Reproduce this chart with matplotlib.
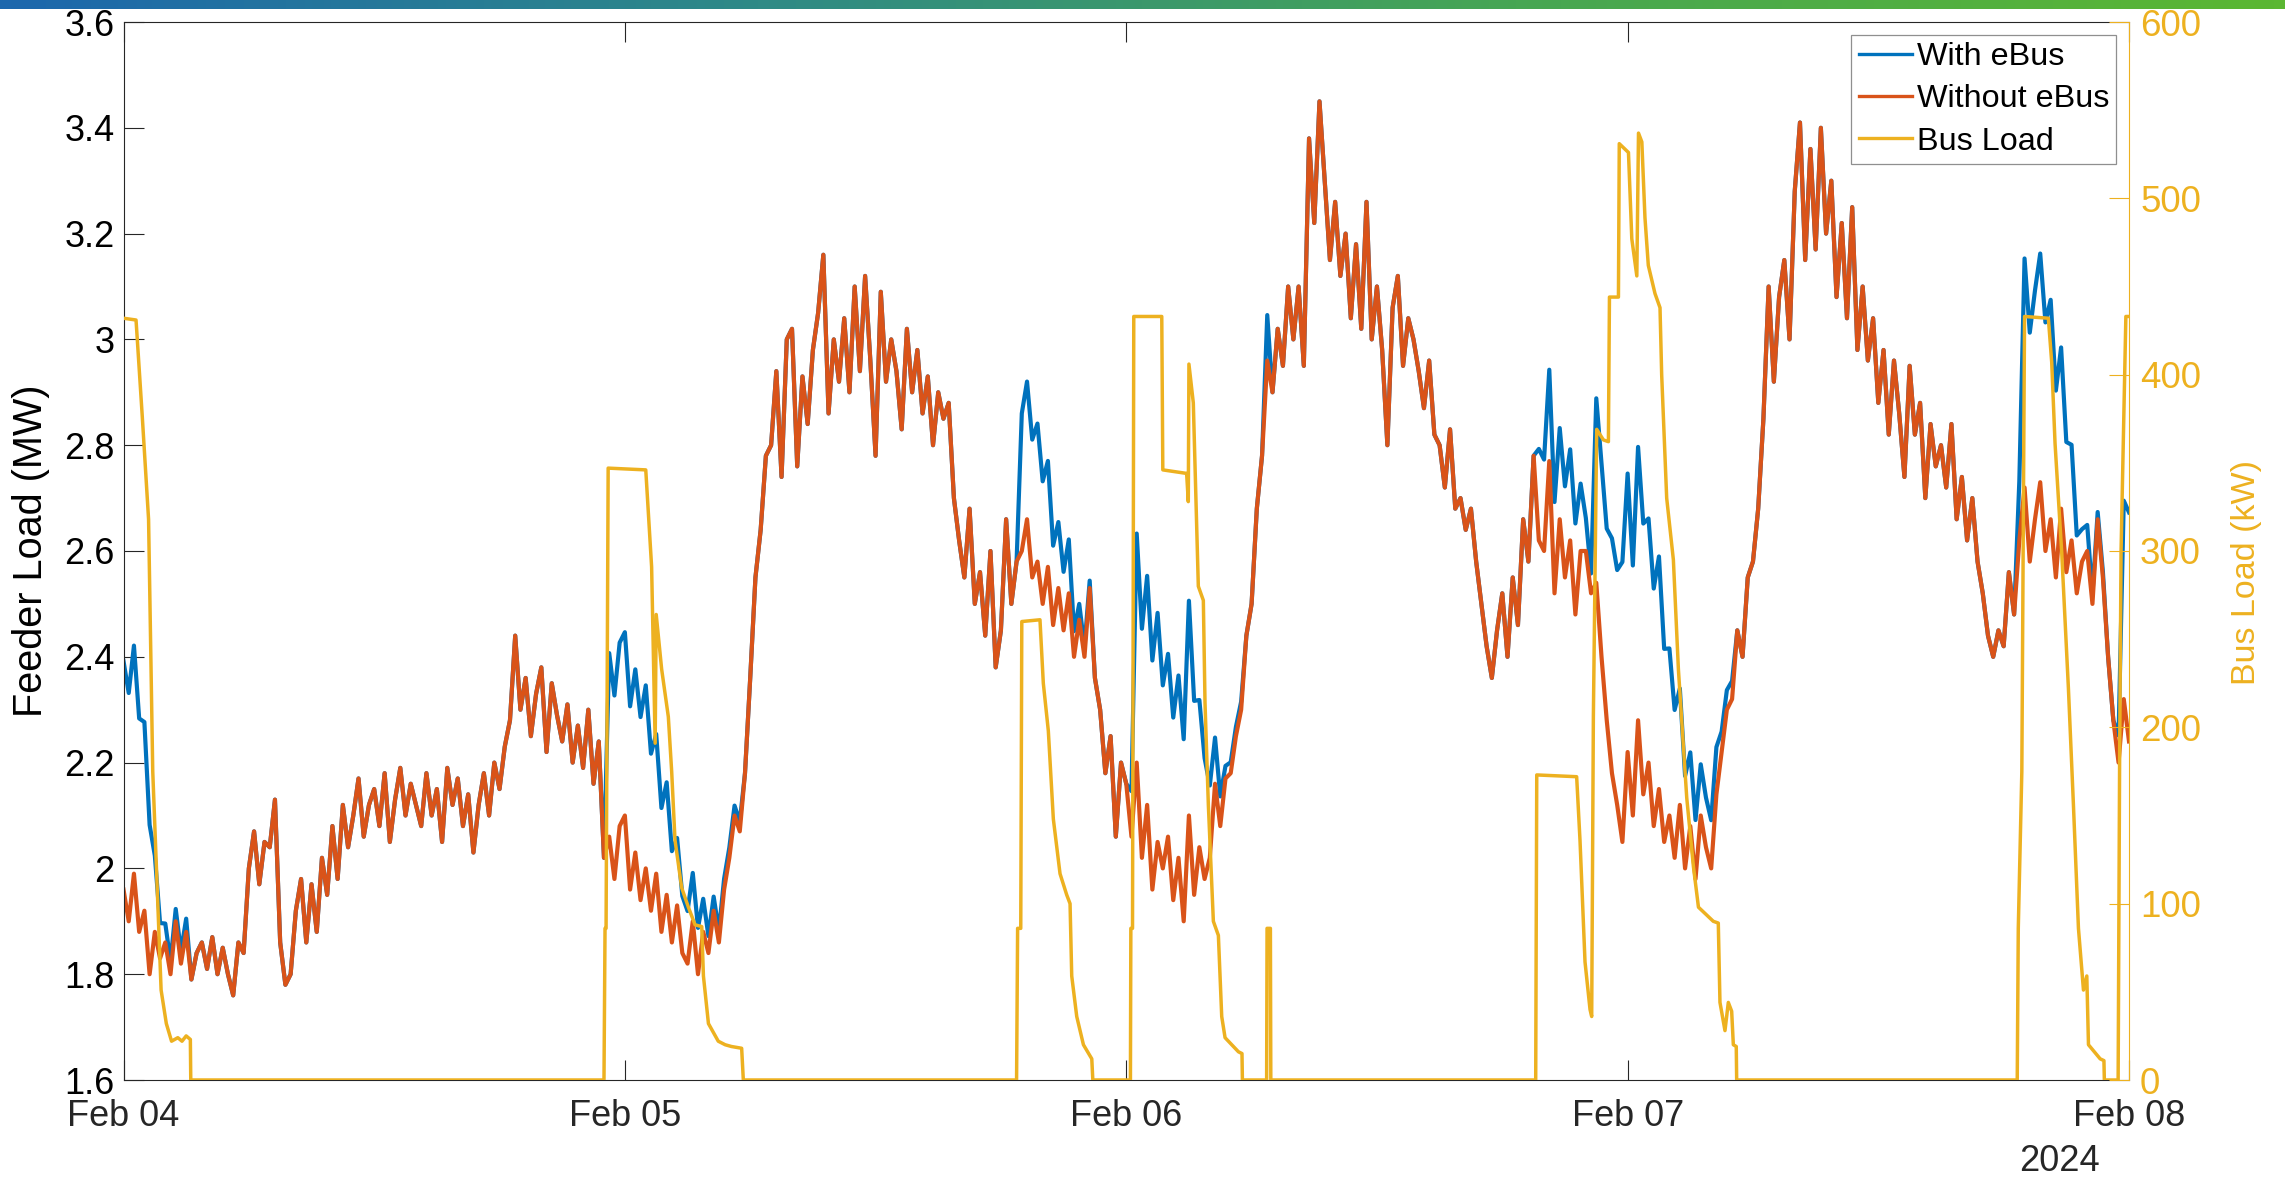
import numpy as np
import matplotlib
matplotlib.use("Agg")
import matplotlib.pyplot as plt
import matplotlib.dates as mdates
from matplotlib.colors import LinearSegmentedColormap
from matplotlib.ticker import FixedLocator, FuncFormatter
from datetime import datetime

plt.rcParams["font.family"] = ["Liberation Sans", "DejaVu Sans"]

# ---------------------------------------------------------------------------
# Feeder load without the electric-bus depot (MW), 15-minute samples
# starting 2024-02-04 00:00.
# ---------------------------------------------------------------------------
START = datetime(2024, 2, 4)
STEP_HOURS = 0.25

without_feb04 = [
    1.96, 1.90, 1.99, 1.88, 1.92, 1.80, 1.88, 1.83, 1.86, 1.80, 1.90, 1.82,
    1.88, 1.79, 1.84, 1.86, 1.81, 1.87, 1.80, 1.85, 1.80, 1.76, 1.86, 1.84,
    2.00, 2.07, 1.97, 2.05, 2.04, 2.13, 1.86, 1.78, 1.80, 1.92, 1.98, 1.86,
    1.97, 1.88, 2.02, 1.95, 2.08, 1.98, 2.12, 2.04, 2.10, 2.17, 2.06, 2.12,
    2.15, 2.08, 2.18, 2.05, 2.13, 2.19, 2.10, 2.16, 2.12, 2.08, 2.18, 2.10,
    2.15, 2.05, 2.19, 2.12, 2.17, 2.08, 2.14, 2.03, 2.12, 2.18, 2.10, 2.20,
    2.15, 2.23, 2.28, 2.44, 2.30, 2.36, 2.25, 2.33, 2.38, 2.22, 2.35, 2.29,
    2.24, 2.31, 2.20, 2.27, 2.19, 2.30, 2.16, 2.24, 2.02, 2.06, 1.98, 2.08,
]
without_feb05 = [
    2.10, 1.96, 2.03, 1.94, 2.00, 1.92, 1.99, 1.88, 1.95, 1.86, 1.93, 1.84,
    1.82, 1.90, 1.80, 1.88, 1.84, 1.92, 1.86, 1.96, 2.02, 2.10, 2.07, 2.18,
    2.36, 2.55, 2.64, 2.78, 2.80, 2.94, 2.74, 3.00, 3.02, 2.76, 2.93, 2.84,
    2.98, 3.05, 3.16, 2.86, 3.00, 2.92, 3.04, 2.90, 3.10, 2.94, 3.12, 2.96,
    2.78, 3.09, 2.92, 3.00, 2.94, 2.83, 3.02, 2.90, 2.98, 2.86, 2.93, 2.80,
    2.90, 2.85, 2.88, 2.70, 2.62, 2.55, 2.68, 2.50, 2.56, 2.44, 2.60, 2.38,
    2.45, 2.66, 2.50, 2.58, 2.60, 2.66, 2.55, 2.58, 2.50, 2.57, 2.46, 2.53,
    2.45, 2.52, 2.40, 2.47, 2.40, 2.53, 2.36, 2.30, 2.18, 2.25, 2.06, 2.20,
]
without_feb06 = [
    2.16, 2.06, 2.20, 2.02, 2.12, 1.96, 2.05, 2.00, 2.06, 1.94, 2.02, 1.90,
    2.10, 1.95, 2.04, 1.98, 2.02, 2.16, 2.08, 2.17, 2.18, 2.25, 2.30, 2.44,
    2.50, 2.68, 2.78, 2.96, 2.90, 3.02, 2.95, 3.10, 3.00, 3.10, 2.95, 3.38,
    3.22, 3.45, 3.30, 3.15, 3.26, 3.12, 3.20, 3.04, 3.18, 3.02, 3.26, 3.00,
    3.10, 2.98, 2.80, 3.06, 3.12, 2.95, 3.04, 3.00, 2.94, 2.87, 2.96, 2.82,
    2.80, 2.72, 2.83, 2.68, 2.70, 2.64, 2.68, 2.58, 2.50, 2.42, 2.36, 2.45,
    2.52, 2.40, 2.55, 2.46, 2.66, 2.58, 2.78, 2.62, 2.60, 2.77, 2.52, 2.66,
    2.55, 2.62, 2.48, 2.60, 2.60, 2.52, 2.54, 2.40, 2.28, 2.18, 2.12, 2.05,
]
without_feb07 = [
    2.22, 2.10, 2.28, 2.14, 2.20, 2.08, 2.15, 2.05, 2.10, 2.02, 2.12, 2.00,
    2.08, 1.98, 2.10, 2.04, 2.00, 2.14, 2.22, 2.30, 2.32, 2.45, 2.40, 2.55,
    2.58, 2.68, 2.85, 3.10, 2.92, 3.08, 3.15, 3.00, 3.28, 3.41, 3.15, 3.36,
    3.17, 3.40, 3.20, 3.30, 3.08, 3.22, 3.04, 3.25, 2.98, 3.10, 2.96, 3.04,
    2.88, 2.98, 2.82, 2.96, 2.86, 2.74, 2.95, 2.82, 2.88, 2.70, 2.84, 2.76,
    2.80, 2.72, 2.84, 2.66, 2.74, 2.62, 2.70, 2.58, 2.52, 2.44, 2.40, 2.45,
    2.42, 2.56, 2.48, 2.62, 2.72, 2.58, 2.66, 2.73, 2.60, 2.66, 2.55, 2.68,
    2.56, 2.62, 2.52, 2.58, 2.60, 2.50, 2.66, 2.55, 2.40, 2.28, 2.20, 2.32,
]
without_feb08 = [2.24]

# ---------------------------------------------------------------------------
# Depot charging load (kW) at its change points, hours since Feb 04 00:00.
# ---------------------------------------------------------------------------
bus_hours = [
    0.0, 0.6, 0.9, 1.2, 1.4, 1.65, 1.8, 2.05, 2.3, 2.6, 2.8, 3.0, 3.2, 3.22,
    23.0, 23.05, 23.1, 23.2, 25.0, 25.28, 25.45, 25.5, 25.76, 26.08, 26.24,
    26.4, 26.72, 27.04, 27.36, 27.68, 27.76, 28.0, 28.47, 28.8, 29.1, 29.59,
    29.67,
    42.75, 42.8, 42.95, 43.0, 43.87, 44.03, 44.27, 44.51, 44.83, 45.15, 45.31,
    45.39, 45.63, 45.95, 46.35, 46.4,
    48.2, 48.22, 48.3, 48.36, 49.7, 49.75, 50.89, 50.97, 51.0, 51.21, 51.45,
    51.69, 51.77, 51.93, 52.17, 52.41, 52.57, 52.73, 53.37, 53.54, 53.56,
    54.72, 54.74, 54.9, 54.92,
    67.6, 67.65, 69.56, 69.72, 69.96, 70.2, 70.28, 70.36, 70.52, 70.84, 71.08,
    71.13, 71.56, 71.6, 72.04, 72.2, 72.44, 72.52, 72.68, 72.83, 72.99, 73.31,
    73.55, 73.63, 73.87, 74.19, 74.43, 74.83, 75.15, 75.39, 76.1, 76.34,
    76.42, 76.66, 76.82, 76.98, 77.06, 77.2, 77.22,
    90.65, 90.7, 90.87, 91.0, 92.14, 92.3, 92.46, 92.78, 93.1, 93.34, 93.58,
    93.82, 93.98, 94.06, 94.62, 94.8, 94.82, 95.48, 95.55, 95.62, 95.85, 96.0,
]
bus_kw = [
    432, 431, 376, 318, 175, 98, 51, 32, 22, 24, 22, 25, 23, 0,
    0, 86, 86, 347, 346, 291, 191, 264, 233, 206, 175,
    136, 109, 98, 88, 87, 59, 32, 22, 20, 19, 18,
    0,
    0, 86, 86, 260, 261, 225, 198, 148, 117, 105, 100,
    59, 36, 20, 12, 0,
    0, 86, 86, 433, 433, 346, 344, 328, 406, 384, 280,
    272, 214, 156, 90, 82, 36, 24, 16, 15, 0,
    0, 86, 86, 0,
    0, 173, 172, 136, 67, 40, 36, 206, 369, 363, 362,
    444, 444, 531, 526, 477, 456, 537, 532, 489, 462, 446,
    438, 400, 330, 295, 233, 160, 121, 98, 90, 89,
    44, 28, 44, 39, 20, 19, 0,
    0, 86, 175, 433, 432, 407, 361, 299, 222, 156, 86,
    51, 59, 20, 12, 11, 0, 0, 180, 300, 433, 433,
]

TICK_MW = [1.6, 1.8, 2.0, 2.2, 2.4, 2.6, 2.8, 3.0, 3.2, 3.4, 3.6]
TICK_KW = [0, 100, 200, 300, 400, 500, 600]

# ---------------------------------------------------------------------------
without = np.array(without_feb04 + without_feb05 + without_feb06
                   + without_feb07 + without_feb08)
hours = np.arange(len(without)) * STEP_HOURS
# feeder load including the depot = base feeder load + charging load
with_ebus = without + np.interp(hours, bus_hours, bus_kw) / 1000.0

x0 = mdates.date2num(START)
x_feed = x0 + hours / 24.0
x_bus = x0 + np.asarray(bus_hours) / 24.0

C_BLUE, C_ORANGE, C_YELLOW = "#0072BD", "#D95319", "#EDB120"
AX_COLOR = "#262626"
W, H = 2285, 1178

fig = plt.figure(figsize=(W / 100, H / 100), dpi=100)

# thin brand gradient strip across the top
cmap = LinearSegmentedColormap.from_list(
    "strip", ["#1c67ad", "#2f8a86", "#47a653", "#5bb732"])
gax = fig.add_axes([0, 1 - 9 / H, 1, 9 / H])
gax.imshow(np.linspace(0, 1, 600)[None, :], aspect="auto", cmap=cmap)
gax.axis("off")

ax = fig.add_axes([123.5 / W, 1 - 1080 / H, 2005.5 / W, 1058 / H])
l1, = ax.plot(x_feed, with_ebus, color=C_BLUE, lw=3.0, label="With eBus")
l2, = ax.plot(x_feed, without, color=C_ORANGE, lw=3.0, label="Without eBus")

ax2 = ax.twinx()
l3, = ax2.plot(x_bus, bus_kw, color=C_YELLOW, lw=2.5, label="Bus Load")

ax.set_xlim(x0, x0 + 4)
ax.set_ylim(1.6, 3.6)
ax2.set_ylim(0, 600)

ax.xaxis.set_major_locator(mdates.DayLocator())
ax.xaxis.set_major_formatter(mdates.DateFormatter("%b %d"))
ax.yaxis.set_major_locator(FixedLocator(TICK_MW))
ax.yaxis.set_major_formatter(FuncFormatter(lambda v, p: f"{round(v, 2):g}"))
ax2.yaxis.set_major_locator(FixedLocator(TICK_KW))

tick_len = 20 * 72 / 100
ax.tick_params(axis="x", direction="in", length=tick_len, width=0.8,
               top=True, labelsize=26, labelcolor=AX_COLOR, color=AX_COLOR,
               pad=13.5)
ax.tick_params(axis="y", direction="in", length=tick_len, width=0.8,
               labelsize=26, labelcolor="black", color=AX_COLOR, pad=6.5)
ax2.tick_params(axis="y", direction="in", length=tick_len, width=0.8,
                labelsize=26.5, colors=C_YELLOW, pad=8)

for s in ("left", "bottom", "top"):
    ax.spines[s].set_color(AX_COLOR)
    ax.spines[s].set_linewidth(0.8)
ax.spines["right"].set_visible(False)
for s in ("left", "bottom", "top"):
    ax2.spines[s].set_visible(False)
ax2.spines["right"].set_color(C_YELLOW)
ax2.spines["right"].set_linewidth(0.8)

ax.set_ylabel("Feeder Load (MW)", fontsize=28.5, color="black")
ax.yaxis.set_label_coords(-0.046, 0.5)
ax.yaxis.label.set_verticalalignment("center")
ax2.set_ylabel("Bus Load (kW)", fontsize=24.5, color=C_YELLOW, rotation=90)
ax2.yaxis.set_label_coords(1.0584, 0.48)
ax2.yaxis.label.set_verticalalignment("center")

ax.text(0.9653, -0.0775, "2024", transform=ax.transAxes, ha="center",
        va="center", fontsize=26, color=AX_COLOR)

leg = ax2.legend([l1, l2, l3], ["With eBus", "Without eBus", "Bus Load"],
                 loc="upper right", bbox_to_anchor=(1 - 13 / 2005, 1 - 13 / 1058),
                 borderaxespad=0, fontsize=23.3, frameon=True, fancybox=False,
                 framealpha=1, edgecolor="#8f8f8f", handlelength=1.64,
                 handletextpad=0.15, borderpad=0.22, labelspacing=0.38)
leg.get_frame().set_linewidth(0.9)
for h in leg.legend_handles:
    h.set_linewidth(2.4)

fig.savefig("out.png", dpi=100)
